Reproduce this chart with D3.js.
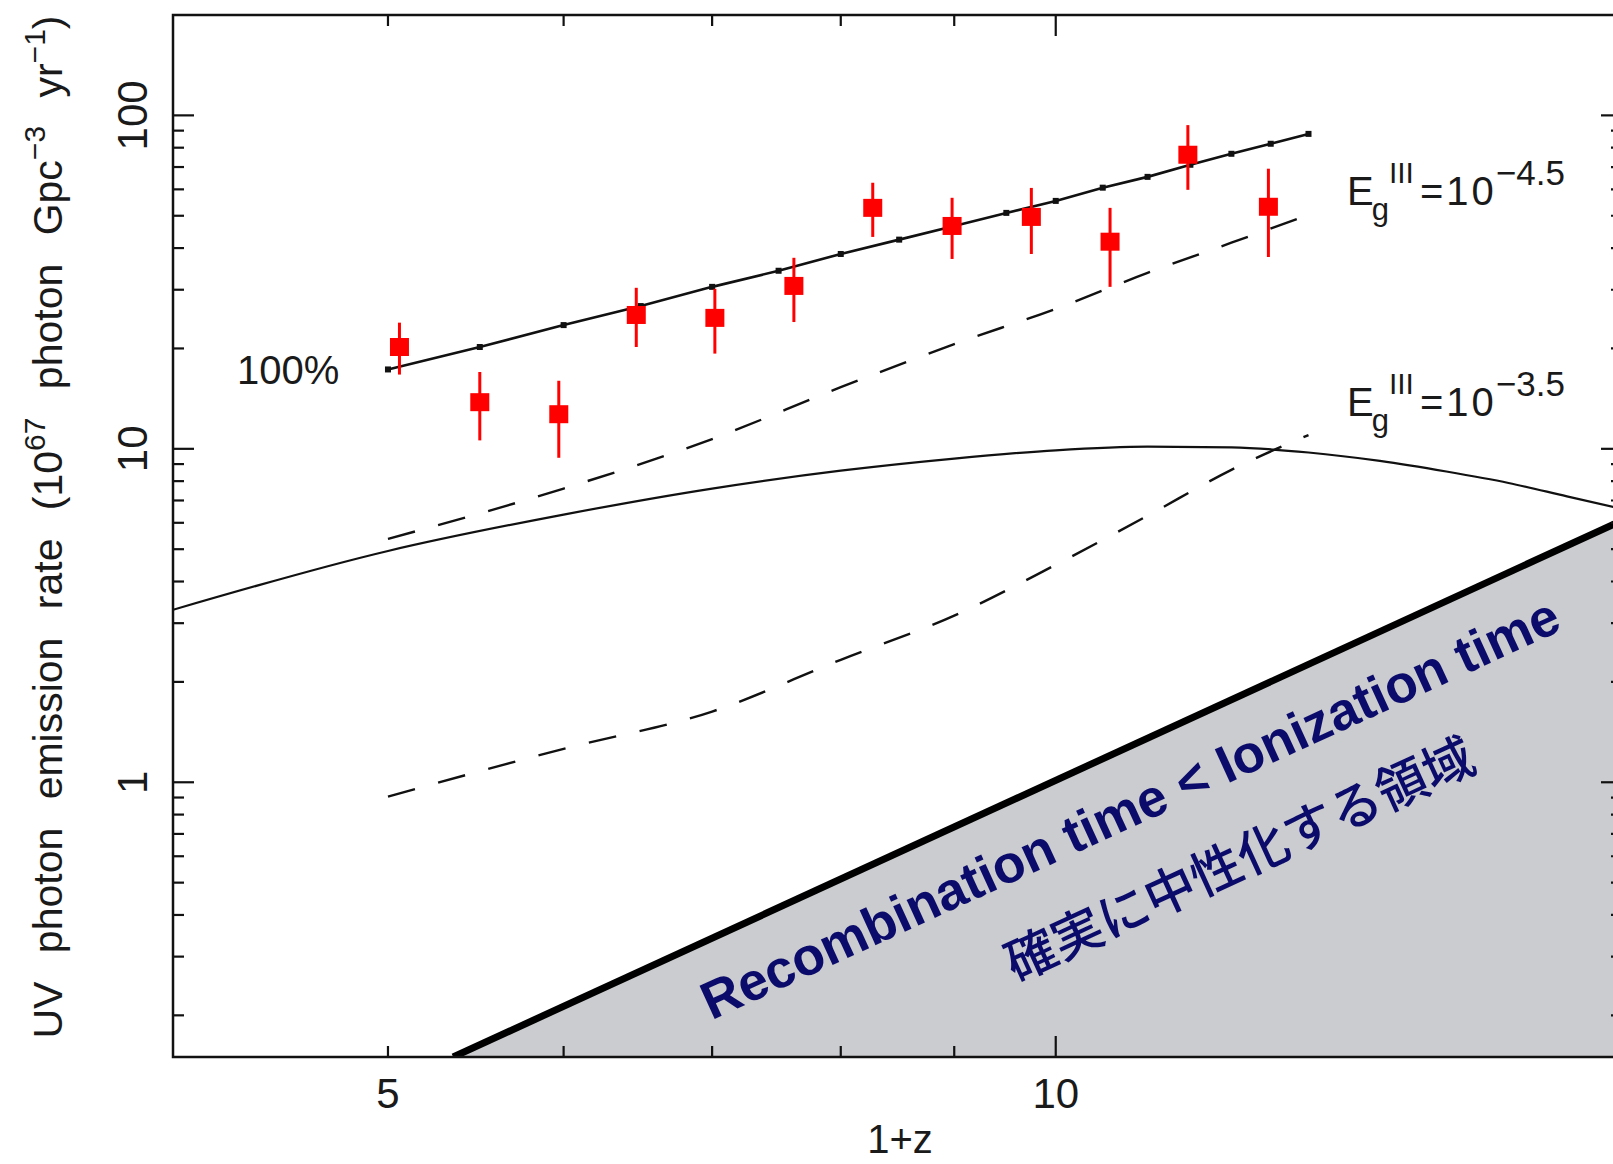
<!DOCTYPE html>
<html>
<head>
<meta charset="utf-8">
<script src="https://cdn.jsdelivr.net/npm/d3@7"></script>
<style>
  body { margin: 0; background: #fff; }
  text { font-family: "Liberation Sans", Arial, Helvetica, sans-serif; fill: #1a1a1a; }
</style>
</head>
<body>
<svg width="1613" height="1164"></svg>
<script>
// 100% line (small black squares)
var zModel = [5, 5.5, 6, 6.5, 7, 7.5, 8, 8.5, 9, 9.5, 10, 10.5, 11, 11.5, 12, 12.5, 13];
var model100 = [17.3, 20.2, 23.5, 26.8, 30.6, 34.2, 38.4, 42.4, 46.6, 51.0, 55.4, 60.7, 65.4, 71.1, 76.7, 82.2, 88.0];

// red observed points with error bars
var zObs = [5.06, 5.5, 5.97, 6.47, 7.02, 7.62, 8.27, 8.98, 9.75, 10.58, 11.47, 12.47];
var obs = [20.2, 13.8, 12.7, 25.2, 24.7, 30.8, 52.8, 46.6, 49.6, 41.8, 76.2, 53.2];
var obsHi = [23.9, 17.0, 16.0, 30.4, 30.2, 37.4, 62.8, 56.6, 60.6, 52.8, 93.5, 69.2];
var obsLo = [16.7, 10.6, 9.4, 20.2, 19.3, 24.0, 43.2, 37.1, 38.4, 30.6, 59.8, 37.6];

// dashed lines Eg^III = 10^-4.5 and 10^-3.5
var zDash = [5, 6, 7, 8, 9, 10, 11, 12, 13];
var dashHi = [5.37, 7.6, 10.7, 15.3, 20.6, 26.3, 33.7, 41.5, 50.3];
var dashLo = [0.906, 1.26, 1.63, 2.33, 3.16, 4.49, 6.3, 8.65, 11.0];

// solid curve
var zCurve = [4, 5, 6, 7, 8, 9, 10, 11, 12, 13, 14, 15, 16, 17, 18];
var curve = [3.29, 4.94, 6.35, 7.6, 8.6, 9.35, 9.9, 10.15, 10.1, 9.75, 9.2, 8.55, 7.9, 7.2, 6.6];

// recombination = ionization boundary
var zRecomb = [5.35, 18];
var recomb = [0.15, 6.1];

var xMinor = [5, 6, 7, 8, 9];
var xMajor = [10];
var xLabels = [5, 10];
var yMajor = [1, 10, 100];
var yMinor = [0.2, 0.3, 0.4, 0.5, 0.6, 0.7, 0.8, 0.9, 2, 3, 4, 5, 6, 7, 8, 9, 20, 30, 40, 50, 60, 70, 80, 90];
var yLabels = [1, 10, 100];

var L = 173, R = 1622, T = 15, B = 1057;
var svg = d3.select("svg");

var x = d3.scaleLog().domain([4, 18]).range([L, R]);
var y = d3.scaleLog().domain([0.15, 200]).range([B, T]);

svg.append("clipPath").attr("id", "clip")
   .append("rect").attr("x", L).attr("y", T).attr("width", R - L).attr("height", B - T);
var plot = svg.append("g").attr("clip-path", "url(#clip)");

// grey region
var area = d3.area().x(function(d) { return x(d[0]); }).y0(B).y1(function(d) { return y(d[1]); });
var rPts = zRecomb.map(function(z, i) { return [z, recomb[i]]; });
plot.append("path").datum(rPts).attr("d", area).attr("fill", "#cbcccf");

// solid curve
var smooth = d3.line().x(function(d) { return x(d[0]); }).y(function(d) { return y(d[1]); }).curve(d3.curveMonotoneX);
plot.append("path").datum(zCurve.map(function(z, i) { return [z, curve[i]]; }))
    .attr("d", smooth).attr("fill", "none").attr("stroke", "#111").attr("stroke-width", 2.2);

// dashed lines
[dashHi, dashLo].forEach(function(s) {
  plot.append("path").datum(zDash.map(function(z, i) { return [z, s[i]]; }))
      .attr("d", smooth).attr("fill", "none").attr("stroke", "#111")
      .attr("stroke-width", 2.4).attr("stroke-dasharray", "28,24");
});

// 100% line
var lin = d3.line().x(function(d) { return x(d[0]); }).y(function(d) { return y(d[1]); });
var mPts = zModel.map(function(z, i) { return [z, model100[i]]; });
plot.append("path").datum(mPts).attr("d", lin).attr("fill", "none").attr("stroke", "#111").attr("stroke-width", 2.6);
plot.selectAll(".mk").data(mPts).enter().append("rect")
    .attr("x", function(d) { return x(d[0]) - 3; }).attr("y", function(d) { return y(d[1]) - 3; })
    .attr("width", 6).attr("height", 6).attr("fill", "#111");

// red points
var oPts = zObs.map(function(z, i) { return { z: z, v: obs[i], hi: obsHi[i], lo: obsLo[i] }; });
plot.selectAll(".eb").data(oPts).enter().append("line")
    .attr("x1", function(d) { return x(d.z); }).attr("x2", function(d) { return x(d.z); })
    .attr("y1", function(d) { return y(d.hi); }).attr("y2", function(d) { return y(d.lo); })
    .attr("stroke", "#ff0000").attr("stroke-width", 3);
plot.selectAll(".sq").data(oPts).enter().append("rect")
    .attr("x", function(d) { return x(d.z) - 9.5; }).attr("y", function(d) { return y(d.v) - 9; })
    .attr("width", 19).attr("height", 18).attr("fill", "#ff0000");

// boundary thick line
plot.append("path").datum(rPts).attr("d", lin).attr("stroke", "#000").attr("stroke-width", 7).attr("fill", "none");

// region text
var ang = Math.atan2(y(recomb[1]) - y(recomb[0]), x(zRecomb[1]) - x(zRecomb[0])) * 180 / Math.PI;
svg.append("text").attr("transform", "translate(1130,808) rotate(" + ang + ")")
   .attr("text-anchor", "middle").attr("dominant-baseline", "central")
   .style("font-weight", "bold").style("font-size", "53px").style("fill", "#0b0b6b")
   .text("Recombination time < Ionization time");
svg.append("text").attr("transform", "translate(1238,856) rotate(" + ang + ")")
   .attr("text-anchor", "middle").attr("dominant-baseline", "central")
   .style("font-family", "'Noto Sans CJK JP', sans-serif").style("font-weight", "500")
   .style("font-size", "51px").style("fill", "#0b0b6b")
   .text("確実に中性化する領域");

// frame
svg.append("rect").attr("x", L).attr("y", T).attr("width", R - L).attr("height", B - T)
   .attr("fill", "none").attr("stroke", "#111").attr("stroke-width", 2.5);

// ticks
var tk = svg.append("g").attr("stroke", "#111").attr("stroke-width", 2.2);
function xt(v, len) {
  tk.append("line").attr("x1", x(v)).attr("x2", x(v)).attr("y1", B).attr("y2", B - len);
  tk.append("line").attr("x1", x(v)).attr("x2", x(v)).attr("y1", T).attr("y2", T + len);
}
function yt(v, len) {
  tk.append("line").attr("y1", y(v)).attr("y2", y(v)).attr("x1", L).attr("x2", L + len);
  tk.append("line").attr("y1", y(v)).attr("y2", y(v)).attr("x1", R).attr("x2", R - len);
}
xMinor.forEach(function(v) { xt(v, 11); });
xMajor.forEach(function(v) { xt(v, 21); });
yMinor.forEach(function(v) { yt(v, 11); });
yMajor.forEach(function(v) { yt(v, 21); });

// tick labels
svg.selectAll(".xl").data(xLabels).enter().append("text")
   .attr("x", function(d) { return x(d); }).attr("y", 1108)
   .attr("text-anchor", "middle").style("font-size", "42px").text(function(d) { return d; });
svg.selectAll(".yl").data(yLabels).enter().append("text")
   .attr("transform", function(d) { return "translate(147," + y(d) + ") rotate(-90)"; })
   .attr("text-anchor", "middle").style("font-size", "42px").text(function(d) { return d; });

// axis titles
svg.append("text").attr("x", 900).attr("y", 1153).attr("text-anchor", "middle")
   .style("font-size", "40px").text("1+z");

var yl = svg.append("text").attr("transform", "translate(62,527) rotate(-90)")
   .attr("text-anchor", "middle").style("font-size", "41px").style("word-spacing", "17px");
yl.append("tspan").text("UV photon emission rate (10");
yl.append("tspan").attr("dy", -17).style("font-size", "30px").text("67");
yl.append("tspan").attr("dy", 17).text(" photon Gpc");
yl.append("tspan").attr("dy", -17).style("font-size", "30px").text("\u22123");
yl.append("tspan").attr("dy", 17).text(" yr");
yl.append("tspan").attr("dy", -17).style("font-size", "30px").text("\u22121");
yl.append("tspan").attr("dy", 17).text(")");

// annotations
svg.append("text").attr("x", 237).attr("y", 384).style("font-size", "40px").text("100%");

function egLabel(yb, expo) {
  var t = svg.append("text").attr("x", 1347).attr("y", yb).style("font-size", "40px");
  t.append("tspan").text("E");
  t.append("tspan").attr("dy", 15).attr("dx", -2).style("font-size", "31px").text("g");
  t.append("tspan").attr("dy", -37).attr("dx", 0).style("font-size", "30px").text("III");
  t.append("tspan").attr("dy", 22).attr("dx", 6).style("letter-spacing", "3px").text("=10");
  t.append("tspan").attr("dy", -20).attr("dx", -1).style("font-size", "35px").text("\u2212" + expo);
}
egLabel(205, "4.5");
egLabel(416, "3.5");
</script>
</body>
</html>
